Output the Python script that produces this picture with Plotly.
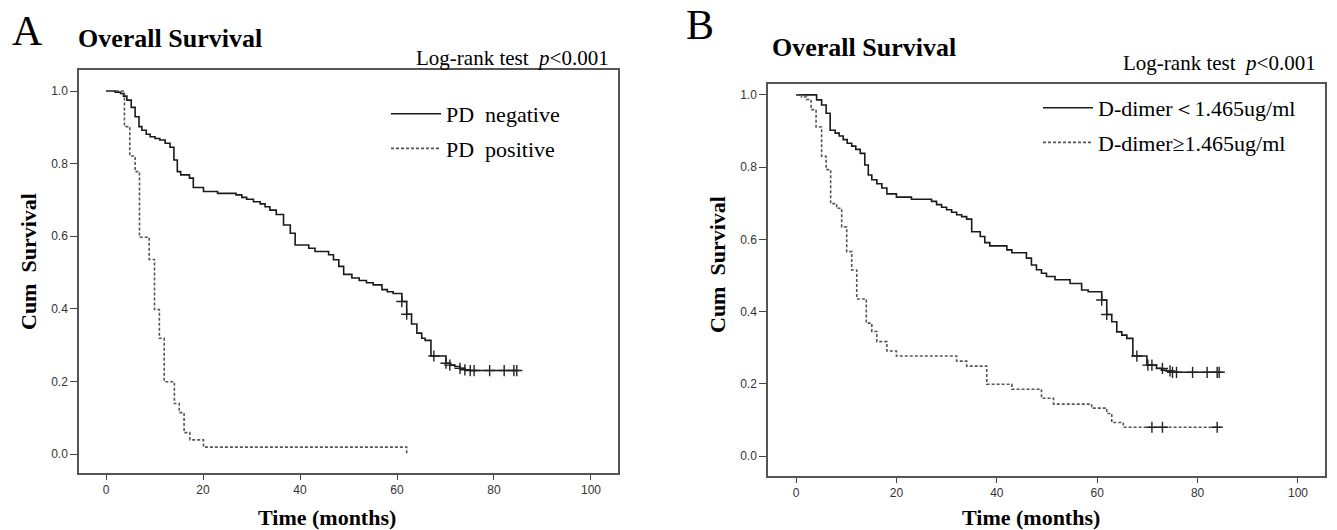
import plotly.graph_objects as go

# ---------------- data ----------------
# Panel A : PD negative (solid)
a_neg_t = [0, 1.9, 3.0, 3.6, 4.3, 5.2, 6.0, 6.8, 7.4, 8.3, 9.1, 10.1, 11.1, 12.2, 13.2, 14.0,
           14.7, 15.4, 17.2, 18.0, 20.1, 23.0, 26.8, 28.0, 29.0, 30.4, 31.8, 32.8, 33.8, 35.1,
           36.6, 38.0, 39.0, 41.8, 43.1, 45.9, 46.9, 48.0, 49.0, 50.7, 52.2, 53.7, 55.1, 56.9,
           58.0, 59.2, 61.0, 62.0, 63.0, 64.1, 65.1, 65.8, 67.0, 70.1, 70.9, 71.9, 73.0, 74.0,
           75.1, 84.7]
a_neg_s = [1.0, 0.997, 0.993, 0.986, 0.975, 0.955, 0.929, 0.902, 0.892, 0.881, 0.874, 0.869,
           0.865, 0.856, 0.845, 0.810, 0.778, 0.769, 0.760, 0.734, 0.723, 0.718, 0.714, 0.707,
           0.702, 0.695, 0.689, 0.681, 0.672, 0.660, 0.631, 0.608, 0.576, 0.567, 0.558, 0.549,
           0.535, 0.517, 0.495, 0.485, 0.478, 0.472, 0.466, 0.453, 0.447, 0.442, 0.420, 0.385,
           0.358, 0.333, 0.319, 0.313, 0.270, 0.250, 0.245, 0.241, 0.236, 0.232, 0.230, 0.230]
a_neg_cens_t = [61.0, 62.0, 67.6, 70.1, 70.9, 73.0, 74.0, 75.1, 75.9, 79.1, 82.1, 84.1, 84.7]
a_neg_cens_s = [0.420, 0.385, 0.270, 0.250, 0.245, 0.236, 0.232, 0.230, 0.230, 0.230, 0.230,
                0.230, 0.230]

# Panel A : PD positive (dotted)
a_pos_t = [0, 3.8, 4.9, 6.0, 6.9, 8.9, 10.0, 11.0, 12.0, 14.1, 15.1, 16.1, 17.3, 20.1, 62.0]
a_pos_s = [1.0, 0.902, 0.821, 0.778, 0.597, 0.536, 0.398, 0.319, 0.199, 0.139, 0.114, 0.059,
           0.039, 0.019, 0.0]

# Panel B : D-dimer < 1.465 (solid)
b_low_t = [0, 4.1, 5.1, 6.0, 6.8, 7.8, 8.6, 9.4, 10.2, 11.1, 11.9, 12.8, 13.7, 14.4, 15.1, 16.1,
           17.1, 18.1, 20.0, 23.0, 27.0, 28.0, 29.0, 30.0, 31.0, 32.0, 33.0, 34.0, 35.0, 36.7,
           37.6, 38.6, 42.0, 43.0, 45.9, 46.9, 47.9, 48.9, 49.9, 51.6, 54.6, 56.9, 58.2, 60.9,
           61.9, 62.9, 63.9, 64.9, 65.9, 67.1, 69.9, 71.8, 72.8, 73.8, 74.8, 84.3]
b_low_s = [1.0, 0.986, 0.972, 0.949, 0.902, 0.894, 0.886, 0.876, 0.866, 0.858, 0.849, 0.838,
           0.806, 0.778, 0.765, 0.754, 0.742, 0.726, 0.717, 0.711, 0.705, 0.696, 0.689, 0.682,
           0.675, 0.668, 0.663, 0.656, 0.621, 0.608, 0.591, 0.582, 0.571, 0.563, 0.548, 0.529,
           0.516, 0.506, 0.497, 0.488, 0.478, 0.460, 0.455, 0.432, 0.392, 0.372, 0.344, 0.335,
           0.326, 0.277, 0.252, 0.243, 0.238, 0.236, 0.232, 0.232]
b_low_cens_t = [60.9, 61.9, 67.9, 70.1, 70.9, 73.0, 74.5, 75.0, 75.8, 79.0, 81.9, 83.9, 84.3]
b_low_cens_s = [0.432, 0.392, 0.277, 0.252, 0.252, 0.243, 0.236, 0.232, 0.232, 0.232, 0.232,
                0.232, 0.232]

# Panel B : D-dimer >= 1.465 (dotted)
b_high_t = [0, 1.1, 2.1, 3.0, 4.0, 5.1, 6.0, 6.9, 8.1, 9.1, 10.1, 11.1, 12.1, 14.0, 15.1, 16.1,
            18.1, 20.0, 32.0, 34.0, 38.0, 43.0, 48.9, 51.3, 58.9, 61.9, 62.9, 65.2, 84.5]
b_high_s = [1.0, 0.994, 0.987, 0.959, 0.911, 0.830, 0.793, 0.699, 0.686, 0.634, 0.566, 0.515,
            0.435, 0.368, 0.345, 0.317, 0.291, 0.277, 0.263, 0.249, 0.199, 0.185, 0.160, 0.144,
            0.133, 0.118, 0.093, 0.080, 0.080]
b_high_cens_t = [70.9, 73.0, 83.9]
b_high_cens_s = [0.080, 0.080, 0.080]

x_ticks = [0, 20, 40, 60, 80, 100]
y_ticks = [0.0, 0.2, 0.4, 0.6, 0.8, 1.0]

legend_a = ["PD  negative", "PD  positive"]
legend_b = ["D-dimer＜1.465ug/ml", "D-dimer≥1.465ug/ml"]

# ---------------- figure ----------------
W, H = 1337, 530
SERIF = "Liberation Serif, Times New Roman, serif"
SANS = "Liberation Sans, Arial, sans-serif"


def px(x):
    return x / W


def py(y):
    return 1 - y / H


solid = dict(color="#1a1a1a", width=1.6, shape="hv")
dotted = dict(color="#555555", width=1.6, shape="hv", dash="3px,2px")
cens_marker = dict(symbol="cross-thin", size=8, line=dict(color="#222222", width=1.4))

fig = go.Figure()

fig.add_trace(go.Scatter(x=a_neg_t, y=a_neg_s, mode="lines", line=solid, name=legend_a[0],
                         xaxis="x", yaxis="y", legend="legend", legendgroup="a1"))
fig.add_trace(go.Scatter(x=a_pos_t, y=a_pos_s, mode="lines", line=dotted, name=legend_a[1],
                         xaxis="x", yaxis="y", legend="legend", legendgroup="a2"))
fig.add_trace(go.Scatter(x=a_neg_cens_t, y=a_neg_cens_s, mode="markers", marker=cens_marker,
                         xaxis="x", yaxis="y", showlegend=False))

fig.add_trace(go.Scatter(x=b_low_t, y=b_low_s, mode="lines", line=solid, name=legend_b[0],
                         xaxis="x2", yaxis="y2", legend="legend2", legendgroup="b1"))
fig.add_trace(go.Scatter(x=b_high_t, y=b_high_s, mode="lines", line=dotted, name=legend_b[1],
                         xaxis="x2", yaxis="y2", legend="legend2", legendgroup="b2"))
fig.add_trace(go.Scatter(x=b_low_cens_t, y=b_low_cens_s, mode="markers", marker=cens_marker,
                         xaxis="x2", yaxis="y2", showlegend=False))
fig.add_trace(go.Scatter(x=b_high_cens_t, y=b_high_cens_s, mode="markers", marker=cens_marker,
                         xaxis="x2", yaxis="y2", showlegend=False))

axis_common = dict(showline=True, linecolor="#555555", linewidth=1.5, mirror=True,
                   showgrid=False, zeroline=False, ticks="outside", tickcolor="#444444",
                   tickwidth=1.2, tickfont=dict(family=SANS, size=12, color="#333333"))

legend_font = dict(family=SERIF, size=22, color="black")

fig.update_layout(
    width=W, height=H, margin=dict(l=0, r=0, t=0, b=0),
    paper_bgcolor="white", plot_bgcolor="white",
    xaxis=dict(domain=[px(79), px(618)], range=[-5.57, 105.57], tickvals=x_ticks,
               ticklen=5, anchor="y", **axis_common),
    yaxis=dict(domain=[py(473), py(70)], range=[-0.0523, 1.0579], tickvals=y_ticks,
               tickformat=".1f", ticklen=7, anchor="x", **axis_common),
    xaxis2=dict(domain=[px(768), px(1325)], range=[-5.58, 105.38], tickvals=x_ticks,
                ticklen=5, anchor="y2", **axis_common),
    yaxis2=dict(domain=[py(476), py(84)], range=[-0.055, 1.030], tickvals=y_ticks,
                tickformat=".1f", ticklen=7, anchor="x2", **axis_common),
    legend=dict(x=px(386), y=py(93), xanchor="left", yanchor="top", font=legend_font,
                bgcolor="rgba(0,0,0,0)", tracegroupgap=3, itemwidth=50),
    legend2=dict(x=px(1038), y=py(87), xanchor="left", yanchor="top", font=legend_font,
                 bgcolor="rgba(0,0,0,0)", tracegroupgap=3, itemwidth=50),
)

ann = []


def add_text(text, x, y, size, xanchor="center", bold=False, angle=0, family=SERIF):
    ann.append(dict(text=("<b>%s</b>" % text) if bold else text, x=px(x), y=py(y),
                    xref="paper", yref="paper", xanchor=xanchor, yanchor="middle",
                    showarrow=False, textangle=angle,
                    font=dict(family=family, size=size, color="black")))


add_text("A", 27, 31, 42)
add_text("Overall Survival", 76, 39, 26, xanchor="left", bold=True)
add_text("Log-rank test  <i>p</i>&lt;0.001", 611, 58, 21, xanchor="right")
add_text("B", 700, 25, 42)
add_text("Overall Survival", 770, 48, 26, xanchor="left", bold=True)
add_text("Log-rank test  <i>p</i>&lt;0.001", 1318, 63, 21, xanchor="right")
add_text("Time (months)", 327, 517, 22, bold=True)
add_text("Time (months)", 1031, 517, 22, bold=True)
add_text("Cum  Survival", 28, 262, 22, bold=True, angle=-90)
add_text("Cum  Survival", 717, 265, 22, bold=True, angle=-90)

fig.update_layout(annotations=ann)

fig.write_html("out.html", post_script="document.body.style.margin='0';",
               config={"displayModeBar": False})
